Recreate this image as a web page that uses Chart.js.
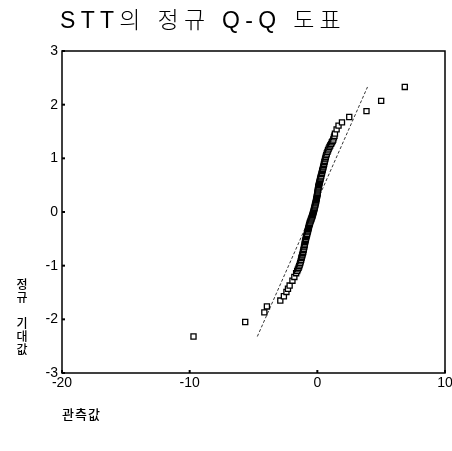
<!DOCTYPE html>
<html>
<head>
<meta charset="utf-8">
<script src="https://cdn.jsdelivr.net/npm/chart.js@4"></script>
<style>
  html, body { margin: 0; padding: 0; background: #fff; }
  #wrap { position: relative; width: 452px; height: 451px; overflow: hidden; }
  #c { position: absolute; left: 0; top: 0; }
  .t { position: absolute; color: #000; white-space: pre; }
  #title { left: 60px; top: 7px; font: 300 23px "Liberation Sans", "Noto Sans CJK KR", sans-serif; letter-spacing: 5.3px; line-height: 26px; }
  #ytitle { left: 15px; top: 277px; font: 500 12px "Noto Sans CJK KR", sans-serif; line-height: 13px; text-align: center; width: 14px; }
  #xtitle { left: 62px; top: 404px; font: 500 13px "Noto Sans CJK KR", sans-serif; letter-spacing: 1px; }
</style>
</head>
<body>
<div id="wrap">
  <canvas id="c" width="452" height="451"></canvas>
  <div class="t" id="title">STT의 정규 Q-Q 도표</div>
  <div class="t" id="ytitle">정
규

기
대
값</div>
  <div class="t" id="xtitle">관측값</div>
</div>
<script>
// Observed values (x) and expected normal values (y)
const observed = [
  -9.70, -5.65, -4.15, -3.95, -2.90, -2.62, -2.42, -2.30, -2.17, -1.95,
  -1.80, -1.66, -1.58, -1.52, -1.47, -1.42, -1.38, -1.34, -1.30, -1.27,
  -1.24, -1.22, -1.19, -1.16, -1.13, -1.11, -1.08, -1.06, -1.04, -1.02,
  -1.00, -0.98, -0.96, -0.94, -0.92, -0.90, -0.87, -0.85, -0.83, -0.80,
  -0.77, -0.75, -0.73, -0.71, -0.69, -0.67, -0.65, -0.63, -0.60, -0.58,
  -0.55, -0.52, -0.49, -0.46, -0.43, -0.40, -0.37, -0.35, -0.33, -0.30,
  -0.28, -0.26, -0.24, -0.22, -0.20, -0.18, -0.16, -0.14, -0.12, -0.10,
  -0.09, -0.07, -0.05, -0.04, -0.02, -0.01, 0.01, 0.02, 0.03, 0.04,
  0.06, 0.07, 0.08, 0.10, 0.12, 0.14, 0.16, 0.18, 0.20, 0.22,
  0.24, 0.26, 0.28, 0.31, 0.33, 0.36, 0.38, 0.41, 0.43, 0.46,
  0.48, 0.51, 0.53, 0.56, 0.58, 0.61, 0.63, 0.66, 0.70, 0.74,
  0.79, 0.84, 0.89, 0.95, 1.01, 1.08, 1.14, 1.20, 1.25, 1.30,
  1.34, 1.38, 1.51, 1.66, 1.93, 2.50, 3.85, 5.00, 6.85
];
const expected = [
  -2.32, -2.05, -1.87, -1.76, -1.65, -1.57, -1.49, -1.43, -1.37, -1.28,
  -1.21, -1.14, -1.10, -1.07, -1.04, -1.01, -0.98, -0.95, -0.92, -0.89,
  -0.86, -0.84, -0.81, -0.79, -0.76, -0.74, -0.71, -0.69, -0.66, -0.64,
  -0.61, -0.59, -0.56, -0.54, -0.52, -0.50, -0.47, -0.45, -0.43, -0.41,
  -0.38, -0.36, -0.34, -0.32, -0.30, -0.28, -0.26, -0.24, -0.22, -0.20,
  -0.18, -0.16, -0.14, -0.12, -0.10, -0.08, -0.06, -0.04, -0.02, 0.00,
  0.02, 0.04, 0.06, 0.08, 0.10, 0.12, 0.14, 0.16, 0.18, 0.20,
  0.22, 0.24, 0.26, 0.28, 0.30, 0.32, 0.34, 0.36, 0.38, 0.40,
  0.42, 0.44, 0.46, 0.48, 0.50, 0.52, 0.54, 0.56, 0.58, 0.60,
  0.62, 0.64, 0.66, 0.68, 0.71, 0.73, 0.76, 0.78, 0.80, 0.83,
  0.85, 0.88, 0.90, 0.93, 0.95, 0.98, 1.00, 1.03, 1.06, 1.09,
  1.12, 1.15, 1.18, 1.21, 1.24, 1.27, 1.30, 1.32, 1.35, 1.39,
  1.42, 1.46, 1.54, 1.61, 1.67, 1.77, 1.88, 2.07, 2.33
];
// Reference (normal) line endpoints
const refLineX = [-4.7, 3.93];
const refLineY = [-2.32, 2.33];
// Axis ticks
const xTicks = [-20, -10, 0, 10];
const yTicks = [-3, -2, -1, 0, 1, 2, 3];

const points = observed.map((x, i) => ({ x: x, y: expected[i] }));
const refLine = refLineX.map((x, i) => ({ x: x, y: refLineY[i] }));

const framePlugin = {
  id: 'frame',
  afterDraw(chart) {
    const a = chart.chartArea, ctx = chart.ctx;
    ctx.save();
    ctx.strokeStyle = '#000';
    ctx.lineWidth = 1.5;
    ctx.strokeRect(a.left, a.top, a.right - a.left, a.bottom - a.top);
    ctx.lineWidth = 2;
    const xs = chart.scales.x, ys = chart.scales.y;
    xTicks.forEach(v => {
      const px = xs.getPixelForValue(v);
      ctx.beginPath(); ctx.moveTo(px, a.bottom); ctx.lineTo(px, a.bottom - 3); ctx.stroke();
    });
    yTicks.forEach(v => {
      const py = ys.getPixelForValue(v);
      ctx.beginPath(); ctx.moveTo(a.left, py); ctx.lineTo(a.left + 3, py); ctx.stroke();
    });
    ctx.restore();
  }
};

const tickFont = { family: '"Liberation Sans", Arial, sans-serif', size: 14 };

new Chart(document.getElementById('c'), {
  type: 'scatter',
  data: {
    datasets: [
      {
        label: 'points',
        data: points,
        pointStyle: 'rect',
        pointRadius: 3.6,
        pointBorderWidth: 1.3,
        borderColor: '#000',
        backgroundColor: '#fff',
        pointBackgroundColor: '#fff',
        pointBorderColor: '#000'
      },
      {
        label: 'ref',
        type: 'line',
        data: refLine,
        showLine: true,
        borderColor: '#000',
        borderWidth: 0.8,
        borderDash: [3, 2],
        pointRadius: 0,
        fill: false
      }
    ]
  },
  options: {
    responsive: false,
    animation: false,
    devicePixelRatio: 1,
    layout: { padding: { left: 0, top: 51, right: 7, bottom: 58 } },
    plugins: { legend: { display: false }, tooltip: { enabled: false }, title: { display: false } },
    scales: {
      x: {
        type: 'linear',
        min: -20, max: 10,
        afterBuildTicks(s) { s.ticks = xTicks.map(v => ({ value: v })); },
        afterFit(s) { s.height = 20; s.paddingRight = 0; s.paddingLeft = 0; },
        grid: { display: false, drawTicks: false },
        border: { display: false },
        ticks: { color: '#000', font: tickFont, padding: 2, maxRotation: 0 }
      },
      y: {
        type: 'linear',
        min: -3, max: 3,
        afterBuildTicks(s) { s.ticks = yTicks.map(v => ({ value: v })); },
        afterFit(s) { s.width = 62; s.paddingTop = 0; s.paddingBottom = 0; },
        grid: { display: false, drawTicks: false },
        border: { display: false },
        ticks: { color: '#000', font: tickFont, padding: 4 }
      }
    }
  },
  plugins: [framePlugin]
});
</script>
</body>
</html>
